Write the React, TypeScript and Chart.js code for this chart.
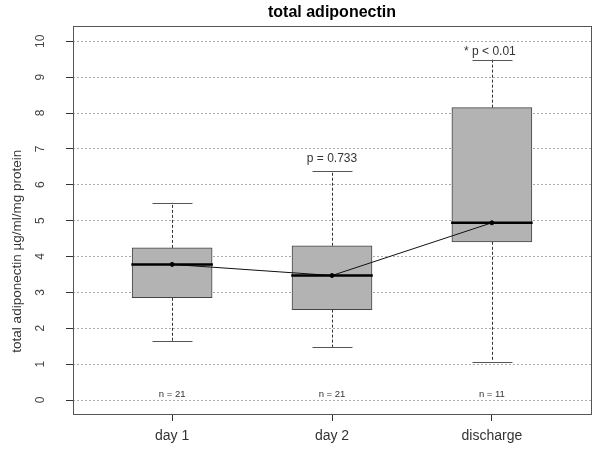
import React, { useEffect, useRef } from "react";
import { Chart, registerables } from "chart.js";
Chart.register(...registerables);

const categories = ["day 1", "day 2", "discharge"];
const positions = [1, 2, 3];
const whiskerLow = [1.64, 1.48, 1.07];
const q1 = [2.85, 2.52, 4.41];
const medians = [3.78, 3.47, 4.94];
const q3 = [4.24, 4.3, 8.15];
const whiskerHigh = [5.5, 6.39, 9.49];
const countLabels = ["n = 21", "n = 21", "n = 11"];
const countLabelY = 0.15;
const pLabels = ["", "p = 0.733", "* p < 0.01"];
const pLabelY = [0, 6.74, 9.7];
const yTicks = [0, 1, 2, 3, 4, 5, 6, 7, 8, 9, 10];
const titleText = "total adiponectin";
const yTitleText = "total adiponectin \u00b5g/ml/mg protein";

const FONT = "'Liberation Sans', Arial, sans-serif";

const boxPlugin = {
  id: "boxExtras",
  beforeDatasetsDraw(chart: any) {
    const { ctx, scales } = chart;
    const xs = scales.x;
    const ys = scales.y;
    ctx.save();
    positions.forEach((p, i) => {
      const x = Math.round(xs.getPixelForValue(p)) + 0.5;
      const capHalf = Math.abs(xs.getPixelForValue(p + 0.125) - xs.getPixelForValue(p));
      ctx.strokeStyle = "#333";
      ctx.lineWidth = 1;
      ctx.setLineDash([3, 2]);
      ctx.beginPath();
      ctx.moveTo(x, ys.getPixelForValue(q3[i]));
      ctx.lineTo(x, ys.getPixelForValue(whiskerHigh[i]));
      ctx.moveTo(x, ys.getPixelForValue(q1[i]));
      ctx.lineTo(x, ys.getPixelForValue(whiskerLow[i]));
      ctx.stroke();
      ctx.setLineDash([]);
      ctx.strokeStyle = "#555";
      ctx.beginPath();
      const yh = Math.round(ys.getPixelForValue(whiskerHigh[i])) + 0.5;
      const yl = Math.round(ys.getPixelForValue(whiskerLow[i])) + 0.5;
      ctx.moveTo(x - capHalf, yh);
      ctx.lineTo(x + capHalf, yh);
      ctx.moveTo(x - capHalf, yl);
      ctx.lineTo(x + capHalf, yl);
      ctx.stroke();
    });
    ctx.restore();
  },
  afterDatasetsDraw(chart: any) {
    const { ctx, scales, chartArea } = chart;
    const xs = scales.x;
    const ys = scales.y;
    ctx.save();
    positions.forEach((p, i) => {
      const x0 = xs.getPixelForValue(p - 0.255);
      const x1 = xs.getPixelForValue(p + 0.255);
      const y = ys.getPixelForValue(medians[i]);
      ctx.strokeStyle = "#000";
      ctx.lineWidth = 2.5;
      ctx.beginPath();
      ctx.moveTo(x0, y);
      ctx.lineTo(x1, y);
      ctx.stroke();
      ctx.fillStyle = "#333";
      ctx.textAlign = "center";
      ctx.textBaseline = "middle";
      ctx.font = `9.5px ${FONT}`;
      ctx.fillText(countLabels[i], xs.getPixelForValue(p), ys.getPixelForValue(countLabelY));
      if (pLabels[i]) {
        ctx.font = `12px ${FONT}`;
        ctx.fillStyle = "#333";
        ctx.fillText(pLabels[i], xs.getPixelForValue(p) - (i === 2 ? 2 : 0), ys.getPixelForValue(pLabelY[i]));
      }
    });
    ctx.strokeStyle = "#555";
    ctx.lineWidth = 1;
    ctx.strokeRect(
      Math.round(chartArea.left) + 0.5,
      Math.round(chartArea.top) + 0.5,
      Math.round(chartArea.right - chartArea.left),
      Math.round(chartArea.bottom - chartArea.top)
    );
    ctx.fillStyle = "#000";
    ctx.font = `bold 16px ${FONT}`;
    ctx.textAlign = "center";
    ctx.textBaseline = "middle";
    ctx.fillText(titleText, (chartArea.left + chartArea.right) / 2, 13);
    ctx.save();
    ctx.translate(17, chartArea.top + 225);
    ctx.rotate(-Math.PI / 2);
    ctx.font = `13.5px ${FONT}`;
    ctx.fillStyle = "#333";
    ctx.fillText(yTitleText, 0, 0);
    ctx.restore();
    ctx.restore();
  },
};

export default function App() {
  const ref = useRef<HTMLCanvasElement | null>(null);
  useEffect(() => {
    document.body.style.margin = "0";
    if (!ref.current) return;
    const chart = new Chart(ref.current, {
      type: "bar",
      data: {
        datasets: [
          {
            type: "bar",
            data: positions.map((p, i) => ({ x: p, y: [q1[i], q3[i]] })) as any,
            backgroundColor: "#b3b3b3",
            borderColor: "#444",
            borderWidth: 1,
            borderSkipped: false,
            barThickness: 80,
            grouped: false,
            order: 2,
          } as any,
          {
            type: "line",
            data: positions.map((p, i) => ({ x: p, y: medians[i] })) as any,
            borderColor: "#111",
            borderWidth: 1,
            pointRadius: 2,
            pointBackgroundColor: "#000",
            pointBorderColor: "#000",
            order: 1,
          } as any,
        ],
      },
      plugins: [boxPlugin],
      options: {
        animation: false,
        responsive: false,
        maintainAspectRatio: false,
        layout: { padding: { left: 0, right: 9, top: 25, bottom: 0 } },
        plugins: { legend: { display: false }, tooltip: { enabled: false }, title: { display: false } },
        scales: {
          x: {
            type: "linear",
            offset: false,
            min: 0.38,
            max: 3.62,
            afterBuildTicks: (s: any) => {
              s.ticks = positions.map((v) => ({ value: v }));
            },
            afterFit: (s: any) => {
              s.height = 37;
            },
            ticks: {
              callback: (v: any) => categories[Number(v) - 1] ?? "",
              font: { family: FONT, size: 14 },
              color: "#333",
              padding: 7,
              maxRotation: 0,
              minRotation: 0,
            },
            grid: {
              offset: false,
              drawOnChartArea: false,
              drawTicks: true,
              tickLength: 7,
              tickColor: "#333",
              color: "#333",
            },
            border: { display: false },
          },
          y: {
            type: "linear",
            min: -0.39,
            max: 10.42,
            afterBuildTicks: (s: any) => {
              s.ticks = yTicks.map((v) => ({ value: v }));
            },
            afterFit: (s: any) => {
              s.width = 73;
            },
            ticks: {
              font: { family: FONT, size: 12 },
              color: "#444",
              minRotation: 90,
              maxRotation: 90,
              crossAlign: "center",
              padding: 19,
            },
            grid: {
              color: "#aaa",
              lineWidth: 1,
              drawTicks: true,
              tickLength: 7,
              tickColor: "#333",
              tickBorderDash: [],
            } as any,
            border: { display: false, dash: [2, 2] } as any,
          },
        },
      } as any,
    });
    return () => chart.destroy();
  }, []);
  return (
    <div style={{ width: 600, height: 451 }}>
      <canvas ref={ref} width={600} height={451} style={{ display: "block" }} />
    </div>
  );
}
